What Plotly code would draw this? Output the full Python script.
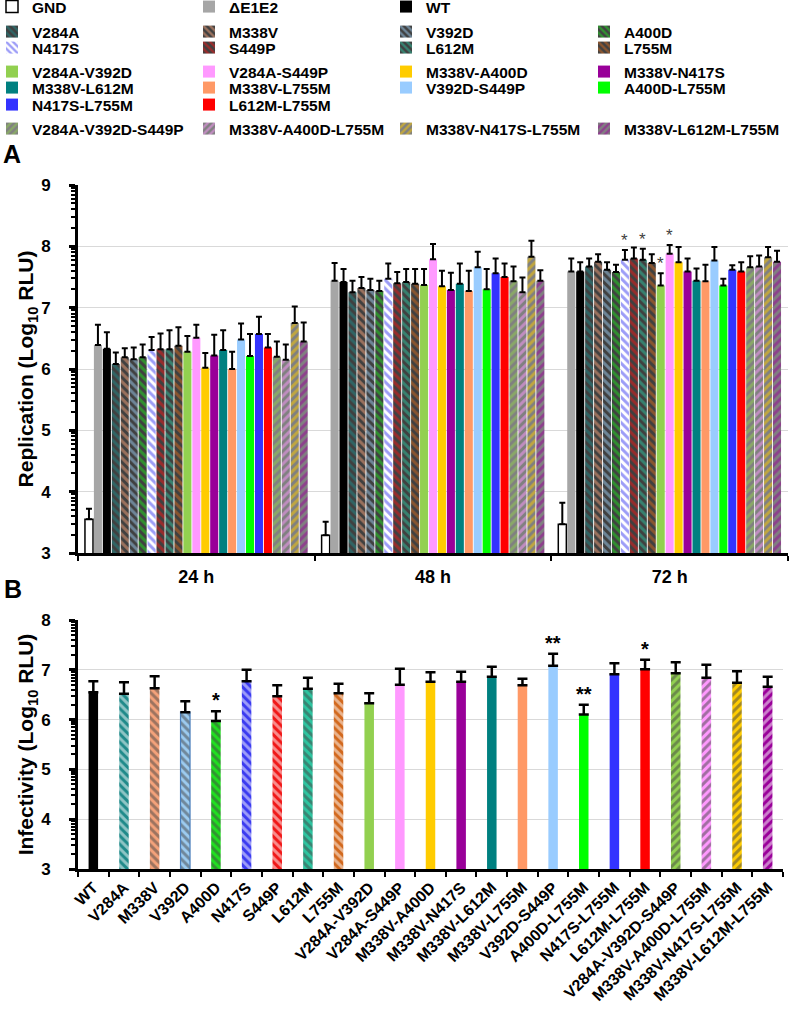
import numpy as np
import plotly.graph_objects as go

# ---------------- data ----------------
time_points = ['24 h', '48 h', '72 h']
genotypes = ['GND', 'ΔE1E2', 'WT',
             'V284A', 'M338V', 'V392D', 'A400D', 'N417S', 'S449P', 'L612M', 'L755M',
             'V284A-V392D', 'V284A-S449P', 'M338V-A400D', 'M338V-N417S', 'M338V-L612M',
             'M338V-L755M', 'V392D-S449P', 'A400D-L755M', 'N417S-L755M', 'L612M-L755M',
             'V284A-V392D-S449P', 'M338V-A400D-L755M', 'M338V-N417S-L755M', 'M338V-L612M-L755M']

rep_24h = [3.55, 6.39, 6.33, 6.08, 6.19, 6.16, 6.19, 6.31, 6.32, 6.32, 6.38,
           6.28, 6.51, 6.02, 6.22, 6.31, 6.00, 6.48, 6.21, 6.57, 6.35,
           6.20, 6.15, 6.75, 6.45]
err_24h = [0.17, 0.33, 0.27, 0.19, 0.15, 0.19, 0.21, 0.21, 0.26, 0.31, 0.30,
           0.26, 0.21, 0.24, 0.34, 0.32, 0.28, 0.26, 0.36, 0.28, 0.22,
           0.25, 0.25, 0.27, 0.31]
rep_48h = [3.29, 7.44, 7.42, 7.25, 7.32, 7.29, 7.27, 7.47, 7.40, 7.42, 7.39,
           7.37, 7.79, 7.35, 7.29, 7.39, 7.27, 7.66, 7.30, 7.56, 7.50,
           7.43, 7.25, 7.83, 7.44]
err_48h = [0.22, 0.29, 0.21, 0.19, 0.18, 0.18, 0.17, 0.25, 0.18, 0.21, 0.24,
           0.26, 0.25, 0.25, 0.28, 0.33, 0.33, 0.25, 0.33, 0.24, 0.22,
           0.24, 0.24, 0.26, 0.17]
rep_72h = [3.47, 7.59, 7.59, 7.67, 7.75, 7.62, 7.58, 7.78, 7.80, 7.78, 7.73,
           7.36, 7.88, 7.74, 7.59, 7.44, 7.43, 7.77, 7.36, 7.62, 7.59,
           7.66, 7.67, 7.82, 7.75]
err_72h = [0.35, 0.21, 0.15, 0.13, 0.12, 0.12, 0.12, 0.16, 0.18, 0.18, 0.14,
           0.20, 0.14, 0.25, 0.21, 0.20, 0.27, 0.22, 0.11, 0.07, 0.15,
           0.18, 0.18, 0.17, 0.18]
rep_sig_72h = {'N417S': '*', 'L612M': '*', 'V284A-V392D': '*', 'V284A-S449P': '*'}

inf_names = genotypes[2:]
inf_vals = [6.55, 6.52, 6.63, 6.15, 5.97, 6.77, 6.47, 6.62, 6.53, 6.33,
            6.70, 6.76, 6.76, 6.86, 6.69, 7.08, 6.10, 6.91, 7.01,
            6.93, 6.84, 6.74, 6.66]
inf_err = [0.22, 0.23, 0.24, 0.22, 0.20, 0.23, 0.22, 0.22, 0.19, 0.20,
           0.32, 0.19, 0.20, 0.20, 0.13, 0.24, 0.20, 0.22, 0.19,
           0.22, 0.26, 0.23, 0.20]
inf_sig = {'A400D': '*', 'V392D-S449P': '**', 'A400D-L755M': '**', 'L612M-L755M': '*'}

legend_rows = [['GND', 'ΔE1E2', 'WT'],
               ['V284A', 'M338V', 'V392D', 'A400D'],
               ['N417S', 'S449P', 'L612M', 'L755M'],
               ['V284A-V392D', 'V284A-S449P', 'M338V-A400D', 'M338V-N417S'],
               ['M338V-L612M', 'M338V-L755M', 'V392D-S449P', 'A400D-L755M'],
               ['N417S-L755M', 'L612M-L755M'],
               ['V284A-V392D-S449P', 'M338V-A400D-L755M', 'M338V-N417S-L755M', 'M338V-L612M-L755M']]

# ---------------- styles ----------------
base_colors = ['#ffffff', '#a6a6a6', '#000000',
               '#404040', '#404040', '#404040', '#404040', '#ffffff', '#404040', '#404040', '#404040',
               '#92d050', '#ff99ff', '#ffcc00', '#990099', '#008080', '#ff9966', '#99ccff', '#00ff00',
               '#3333ff', '#ff0000',
               '#808080', '#808080', '#808080', '#808080']
stripe_colors = ['#ffffff', '#a6a6a6', '#000000',
                 '#1f8a8a', '#f4a27a', '#9ccbf0', '#1fe01f', '#3a3af0', '#f01818', '#2ec4a0', '#d2691e',
                 '#92d050', '#ff99ff', '#ffcc00', '#990099', '#008080', '#ff9966', '#99ccff', '#00ff00',
                 '#3333ff', '#ff0000',
                 '#92d050', '#ff99ff', '#ffcc00', '#990099']
stripe_shapes = ['', '', ''] + ['\\'] * 8 + [''] * 10 + ['/'] * 4
line_widths = [1.5] + [0] * 24
line_colors = ['#000000'] * 25

FONT = 'Liberation Sans, Arial, sans-serif'
W, H = 789, 1019
TOP = 140                      # top margin (legend area) in px
PH = H - TOP


def fx(px):
    """paper-x fraction for a pixel column"""
    return px / W


def fy(py):
    """paper-y fraction for a pixel row measured from the top"""
    return (H - py) / PH


bargap = 0.055
n = len(genotypes)

# one legend per legend cell, positioned in a 4-column grid
legend_text_x = [33, 230, 427, 625]
legend_row_y = [7, 32, 48, 72, 88, 105, 129]
legend_key = {}
legend_layouts = {}
k = 0
for r, row in enumerate(legend_rows):
    for c, name in enumerate(row):
        key = 'legend' if k == 0 else 'legend%d' % (k + 1)
        k += 1
        legend_key[name] = key
        legend_layouts[key] = dict(
            orientation='h', x=fx(legend_text_x[c] - 41), xanchor='left',
            y=fy(legend_row_y[r]), yanchor='middle', bgcolor='rgba(0,0,0,0)',
            font=dict(family=FONT, size=15.5, color='black', weight='bold'),
            itemclick=False, itemdoubleclick=False)

fig = go.Figure()
for i, g in enumerate(genotypes):
    fig.add_trace(go.Bar(
        x=time_points,
        y=[rep_24h[i], rep_48h[i], rep_72h[i]],
        name=g,
        legend=legend_key[g],
        marker=dict(color=stripe_colors[i],
                    pattern=dict(shape=stripe_shapes[i], fgcolor=stripe_colors[i],
                                 bgcolor=base_colors[i], size=6, solidity=0.5),
                    line=dict(width=line_widths[i], color=line_colors[i])),
        error_y=dict(type='data', symmetric=False,
                     array=[err_24h[i], err_48h[i], err_72h[i]], arrayminus=[0, 0, 0],
                     color='black', thickness=2, width=3),
        xaxis='x', yaxis='y'))

fig.add_trace(go.Bar(
    x=inf_names, y=inf_vals, width=0.31, showlegend=False,
    marker=dict(color=stripe_colors[2:],
                pattern=dict(shape=stripe_shapes[2:], fgcolor=stripe_colors[2:],
                             bgcolor=base_colors[2:], size=6, solidity=0.5),
                line=dict(width=[1.2 if nm == 'V392D' else 0 for nm in inf_names],
                          color=['#4a7ebb' if nm == 'V392D' else '#000000' for nm in inf_names])),
    error_y=dict(type='data', symmetric=False, array=inf_err, arrayminus=[0] * len(inf_err),
                 color='black', thickness=2.5, width=5),
    xaxis='x2', yaxis='y2'))

# ---------------- annotations ----------------
ann = []
slot = (1 - bargap) / n
for g, s in rep_sig_72h.items():
    i = genotypes.index(g)
    xc = 2 - (1 - bargap) / 2 + (i + 0.5) * slot
    ann.append(dict(x=xc, y=rep_72h[i] + err_72h[i], xref='x', yref='y', text=s,
                    showarrow=False, yanchor='bottom', yshift=-2,
                    font=dict(family=FONT, size=17, color='#404040')))
for g, s in inf_sig.items():
    i = inf_names.index(g)
    ann.append(dict(x=g, y=inf_vals[i] + inf_err[i], xref='x2', yref='y2', text=s,
                    showarrow=False, yanchor='bottom', yshift=-2,
                    font=dict(family=FONT, size=20, color='black', weight='bold')))
ann.append(dict(x=fx(1), y=fy(154), xref='paper', yref='paper', text='A', showarrow=False,
                xanchor='left', yanchor='middle', font=dict(family=FONT, size=25, color='black', weight='bold')))
ann.append(dict(x=fx(2), y=fy(589), xref='paper', yref='paper', text='B', showarrow=False,
                xanchor='left', yanchor='middle', font=dict(family=FONT, size=25, color='black', weight='bold')))

minor_A = [u + np.log10(v) for u in range(3, 9) for v in range(2, 10)]
minor_B = [u + np.log10(v) for u in range(3, 8) for v in range(2, 10)]

axis_font = dict(family=FONT, size=17, color='black', weight='bold')
title_font = dict(family=FONT, size=21, color='black', weight='bold')
common_y = dict(showline=True, linewidth=3, linecolor='black', ticks='outside', ticklen=6,
                tickwidth=2.5, tickcolor='black', showgrid=True, gridcolor='#d9d9d9', gridwidth=1,
                zeroline=False, tickfont=axis_font, dtick=1, ticklabelstandoff=15)

layout = dict(
    width=W, height=H, margin=dict(l=0, r=0, t=TOP, b=0, autoexpand=False),
    paper_bgcolor='white', plot_bgcolor='white',
    barmode='group', bargap=bargap, bargroupgap=0.1,
    font=dict(family=FONT, color='black'),
    annotations=ann,
    xaxis=dict(domain=[fx(78), fx(788)], anchor='y', type='category', showline=True, linewidth=3,
               linecolor='black', ticks='outside', tickson='boundaries', ticklen=5, tickwidth=2,
               tickcolor='black', tickfont=dict(family=FONT, size=18, color='black', weight='bold'),
               ticklabelstandoff=5, showgrid=False),
    yaxis=dict(domain=[fy(553), fy(185)], anchor='x', range=[3, 9],
               title=dict(text='Replication (Log<sub>10</sub> RLU)', standoff=2, font=title_font),
               minor=dict(tickmode='array', tickvals=minor_A, ticks='outside', ticklen=4,
                          tickwidth=1.5, tickcolor='black', showgrid=False),
               **common_y),
    xaxis2=dict(domain=[fx(78), fx(783)], anchor='y2', type='category', showline=True, linewidth=3,
                linecolor='black', ticks='outside', tickson='boundaries', ticklen=5, tickwidth=2,
                tickcolor='black', tickangle=-45,
                tickfont=dict(family=FONT, size=16, color='black', weight='bold'), showgrid=False),
    yaxis2=dict(domain=[fy(869), fy(620)], anchor='x2', range=[3, 8],
                title=dict(text='Infectivity (Log<sub>10</sub> RLU)', standoff=2, font=title_font),
                minor=dict(tickmode='array', tickvals=minor_B, ticks='outside', ticklen=4,
                           tickwidth=1.5, tickcolor='black', showgrid=False),
                **common_y),
)
layout.update(legend_layouts)

fig.update_layout(**layout)
# remove the browser's default 8px page margin so the figure fills the window exactly
fig.write_html('out.html', config={'displayModeBar': False},
               post_script="document.body.style.margin='0px';")
